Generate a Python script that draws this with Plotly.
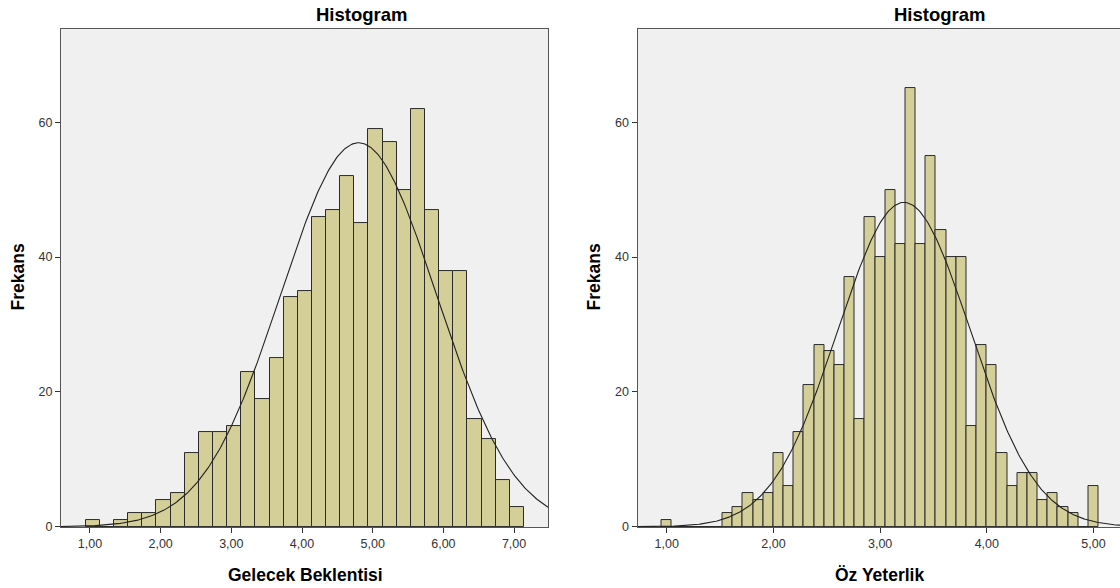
import numpy as np
import plotly.graph_objects as go

W, H = 1120, 588          # target picture size (layout fractions are based on it)
FIG_H = 596               # rendered height (compensates for the viewport's vertical squeeze)

# ---------------- data ----------------
# Left histogram: Gelecek Beklentisi (bin width 0.2)
gb_bin_start = 0.94
gb_bin_width = 0.2
gb_counts = [1, 0, 1, 2, 2, 4, 5, 11, 14, 14, 15, 23, 19, 25, 34, 35,
             46, 47, 52, 45, 59, 57, 50, 62, 47, 38, 38, 16, 13, 7, 3]
gb_mean, gb_sd, gb_n = 4.80, 1.10, 785

# Right histogram: Öz Yeterlik (bin width 4/42)
oy_bin_start = 0.952
oy_bin_width = 4 / 42
oy_counts = [1, 0, 0, 0, 0, 0, 2, 3, 5, 4, 5, 11, 6, 14, 21, 27, 26, 24,
             37, 16, 46, 40, 50, 42, 65, 42, 55, 44, 40, 40, 15, 27, 24,
             11, 6, 8, 8, 4, 5, 3, 2, 0, 6]
oy_mean, oy_sd, oy_n = 3.224, 0.62, 785

y_ticks = [0, 20, 40, 60]
gb_x_ticks = [1, 2, 3, 4, 5, 6, 7]
oy_x_ticks = [1, 2, 3, 4, 5]

title_text = "Histogram"
y_title = "Frekans"
gb_title = "Gelecek Beklentisi"
oy_title = "Öz Yeterlik"

# ---------------- style ----------------
BAR_FILL = "#d4cf98"
BAR_LINE = "#2b2b2b"
PLOT_BG = "#f0f0f0"
AXIS_COL = "#555555"
TICK_FONT = dict(family="Liberation Sans, Arial, sans-serif", size=12.5, color="#333333")
BOLD_FONT = "Liberation Sans, Arial, sans-serif"


def centers(start, width, n):
    return start + width * (np.arange(n) + 0.5)


def normal_curve(mean, sd, n, width, lo, hi):
    xs = np.linspace(lo, hi, 400)
    ys = n * width / (sd * np.sqrt(2 * np.pi)) * np.exp(-0.5 * ((xs - mean) / sd) ** 2)
    return xs, ys


fig = go.Figure()

gb_x = centers(gb_bin_start, gb_bin_width, len(gb_counts))
fig.add_trace(go.Bar(x=gb_x, y=gb_counts, width=gb_bin_width,
                     marker=dict(color=BAR_FILL, line=dict(color=BAR_LINE, width=1)),
                     xaxis="x", yaxis="y", showlegend=False, hoverinfo="x+y"))
cx, cy = normal_curve(gb_mean, gb_sd, gb_n, gb_bin_width, 0.5, 7.6)
fig.add_trace(go.Scatter(x=cx, y=cy, mode="lines", line=dict(color="#222222", width=1.1),
                         xaxis="x", yaxis="y", showlegend=False, hoverinfo="skip"))

oy_x = centers(oy_bin_start, oy_bin_width, len(oy_counts))
fig.add_trace(go.Bar(x=oy_x, y=oy_counts, width=oy_bin_width,
                     marker=dict(color=BAR_FILL, line=dict(color=BAR_LINE, width=1)),
                     xaxis="x2", yaxis="y2", showlegend=False, hoverinfo="x+y"))
cx2, cy2 = normal_curve(oy_mean, oy_sd, oy_n, oy_bin_width, 0.6, 5.5)
fig.add_trace(go.Scatter(x=cx2, y=cy2, mode="lines", line=dict(color="#222222", width=1.1),
                         xaxis="x2", yaxis="y2", showlegend=False, hoverinfo="skip"))

ydom = [62 / H, 559 / H]
common_x = dict(showgrid=False, zeroline=False, showline=True, linecolor=AXIS_COL, linewidth=1,
                mirror=True, ticks="outside", ticklen=5, tickcolor="#333333",
                tickfont=TICK_FONT, tickformat=".2f")
common_y = dict(showgrid=False, zeroline=False, showline=True, linecolor=AXIS_COL, linewidth=1,
                ticks="outside", ticklen=5, tickcolor="#333333", tickfont=TICK_FONT,
                tickvals=y_ticks, range=[0, 73.8])

fig.update_layout(
    width=W, height=FIG_H,
    margin=dict(l=0, r=0, t=0, b=0),
    paper_bgcolor="white", plot_bgcolor=PLOT_BG,
    separators=",.",
    bargap=0,
    xaxis=dict(domain=[61 / W, 548 / W], range=[0.59, 7.48], tickvals=gb_x_ticks, **common_x),
    yaxis=dict(domain=ydom, anchor="x", mirror=True, **common_y),
    xaxis2=dict(domain=[637.5 / W, 1.0], range=[0.726, 5.248], tickvals=oy_x_ticks,
                anchor="y2", **common_x),
    yaxis2=dict(domain=ydom, anchor="x2", mirror=False, **common_y),
)


def ann(text, px, py, size, angle=0):
    fig.add_annotation(text=f"<b>{text}</b>", xref="paper", yref="paper",
                       x=px / W, y=1 - py / H, showarrow=False, textangle=angle,
                       xanchor="center", yanchor="middle",
                       font=dict(family=BOLD_FONT, size=size, color="#000000"))


ann(title_text, 362, 14, 18.5)
ann(title_text, 940, 14, 18.5)
ann(y_title, 18, 277, 17.5, -90)
ann(y_title, 594, 277, 17.5, -90)
ann(gb_title, 305, 574, 17.5)
ann(oy_title, 879, 574, 17.5)

post = (
    "var h=document.documentElement,b=document.body;"
    "h.style.margin='0';h.style.padding='0';h.style.overflow='hidden';"
    "b.style.margin='0';b.style.padding='0';b.style.overflow='hidden';"
)

fig.write_html("out.html", config={"displayModeBar": False}, post_script=post)
